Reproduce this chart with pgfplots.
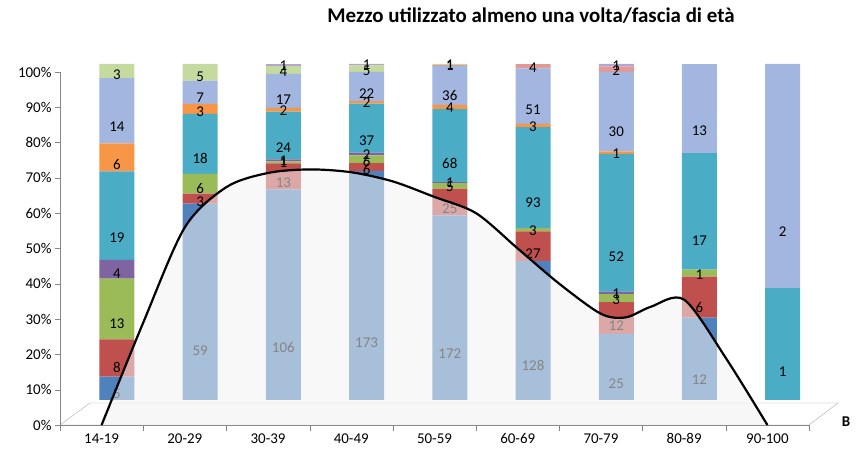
\documentclass[border=0pt]{standalone}
\usepackage{pgfplots}
\pgfplotsset{compat=1.18}
\usepackage{fontspec}
\setmainfont{Carlito}
\definecolor{cA}{HTML}{4F81BD}
\definecolor{cB}{HTML}{C0504D}
\definecolor{cC}{HTML}{9BBB59}
\definecolor{cD}{HTML}{8064A2}
\definecolor{cE}{HTML}{4BACC6}
\definecolor{cF}{HTML}{F79646}
\definecolor{cG}{HTML}{A2B6DF}
\definecolor{cH}{HTML}{E29A98}
\definecolor{cI}{HTML}{C5DA9E}
\definecolor{cJ}{HTML}{B3A5CF}
\definecolor{axgray}{HTML}{868686}
\pgfplotsset{cyl/.style={draw=none, fill=#1}}
\begin{document}
\begin{tikzpicture}
\path[use as bounding box] (0,0) rectangle (867bp,461bp);
% floor
\draw[axgray!70, fill=white] (60bp,36bp) -- (809bp,36bp) -- (838bp,58bp) -- (90bp,58bp) -- cycle;
% bars (back row)
\begin{axis}[at={(75.3bp,61bp)}, anchor=south west, scale only axis,
  width=749bp, height=336bp, xmin=-0.5, xmax=8.5, ymin=0, ymax=100,
  hide axis, clip=false, ybar stacked, bar width=35bp,
  point meta=explicit symbolic, nodes near coords,
  visualization depends on=rawy \as \rawy,
  every node near coord/.append style={anchor=center, yshift={-0.25*\rawy*3.36bp},
    text=black, font=\fontsize{15}{15}\selectfont}]
\addplot[cyl=cA] coordinates {(0,6.94)[5] (1,58.42)[59] (2,62.72)[106] (3,68.11)[173] (4,54.95)[172] (5,41.42)[128] (6,19.69)[25] (7,24.49)[12] (8,0)[{}]};
\addplot[cyl=cB] coordinates {(0,11.11)[8] (1,2.97)[3] (2,7.69)[13] (3,2.36)[6] (4,7.99)[25] (5,8.74)[27] (6,9.45)[12] (7,12.24)[6] (8,0)[{}]};
\addplot[cyl=cC] coordinates {(0,18.06)[13] (1,5.94)[6] (2,0.59)[1] (3,2.36)[6] (4,1.60)[5] (5,0.97)[3] (6,2.36)[3] (7,2.04)[1] (8,0)[{}]};
\addplot[cyl=cD] coordinates {(0,5.56)[4] (1,0)[{}] (2,0.59)[1] (3,0.79)[2] (4,0.32)[1] (5,0)[{}] (6,0.79)[1] (7,0)[{}] (8,0)[{}]};
\addplot[cyl=cE] coordinates {(0,26.39)[19] (1,17.82)[18] (2,14.20)[24] (3,14.57)[37] (4,21.73)[68] (5,30.10)[93] (6,40.94)[52] (7,34.69)[17] (8,33.33)[1]};
\addplot[cyl=cF] coordinates {(0,8.33)[6] (1,2.97)[3] (2,1.18)[2] (3,0.79)[2] (4,1.28)[4] (5,0.97)[3] (6,0.79)[1] (7,0)[{}] (8,0)[{}]};
\addplot[cyl=cG] coordinates {(0,19.44)[14] (1,6.93)[7] (2,10.06)[17] (3,8.66)[22] (4,11.50)[36] (5,16.50)[51] (6,23.62)[30] (7,26.53)[13] (8,66.67)[2]};
\addplot[cyl=cH] coordinates {(0,0)[{}] (1,0)[{}] (2,0)[{}] (3,0)[{}] (4,0.32)[1] (5,1.29)[4] (6,1.57)[2] (7,0)[{}] (8,0)[{}]};
\addplot[cyl=cI] coordinates {(0,4.17)[3] (1,4.95)[5] (2,2.37)[4] (3,1.97)[5] (4,0.32)[1] (5,0)[{}] (6,0)[{}] (7,0)[{}] (8,0)[{}]};
\addplot[cyl=cJ] coordinates {(0,0)[{}] (1,0)[{}] (2,0.59)[1] (3,0.39)[1] (4,0)[{}] (5,0)[{}] (6,0.79)[1] (7,0)[{}] (8,0)[{}]};
\end{axis}
% front axis with series B
\begin{axis}[at={(60bp,36bp)}, anchor=south west, scale only axis,
  width=749bp, height=353bp, xmin=-0.5, xmax=8.5, ymin=0, ymax=100,
  axis x line=bottom, axis y line=left, axis line style={axgray,-},
  clip=false,
  ytick={0,10,...,100}, yticklabel={\pgfmathprintnumber{\tick}\%},
  xtick={0,...,8}, xticklabels={14-19,20-29,30-39,40-49,50-59,60-69,70-79,80-89,90-100},
  major x tick style={draw=none},
  minor xtick={-0.5,0.5,...,8.5},
  tick align=outside, major tick length=5bp, minor tick length=6bp,
  tick style={axgray},
  /pgf/number format/assume math mode=true,
  ticklabel style={font=\fontsize{15}{15}\selectfont, text=black}]
\addplot[draw=none, fill=black!5, fill opacity=0.55, smooth] coordinates {(0,0) (0.5,29) (1,56) (1.5,67.4) (2,71.4) (2.5,72.4) (3,71.6) (3.5,69) (4,64.6) (4.5,60) (5,50) (5.5,40) (6,31.5) (6.3,30.5) (6.6,33.5) (7,35.5) (7.5,19) (8,0)} \closedcycle;
\addplot[black, line width=2.2pt, smooth] coordinates {(0,0) (0.5,29) (1,56) (1.5,67.4) (2,71.4) (2.5,72.4) (3,71.6) (3.5,69) (4,64.6) (4.5,60) (5,50) (5.5,40) (6,31.5) (6.3,30.5) (6.6,33.5) (7,35.5) (7.5,19) (8,0)};
\end{axis}
\node[font=\bfseries\fontsize{21}{21}\selectfont] at (531bp,445bp) {Mezzo utilizzato almeno una volta/fascia di età};
\node[font=\bfseries\fontsize{15}{15}\selectfont] at (846bp,39bp) {B};
\end{tikzpicture}
\end{document}
